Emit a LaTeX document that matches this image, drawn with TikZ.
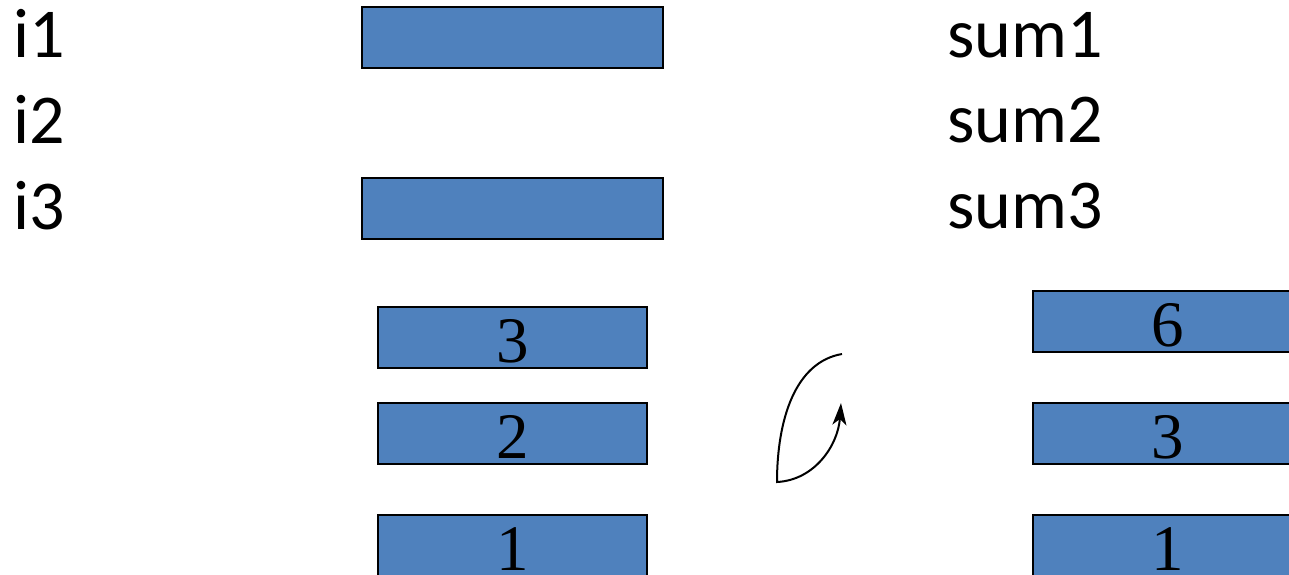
\documentclass[tikz,border=0pt]{standalone}
\usepackage{fontspec}
\setmainfont{Carlito}
\newfontfamily\numfont{Liberation Serif}
\usetikzlibrary{arrows.meta}
\definecolor{boxblue}{HTML}{4F81BD}
\tikzset{
  bar/.style={draw=black, line width=2pt, fill=boxblue},
  lbl/.style={anchor=base west, inner sep=0pt, font=\fontsize{70}{80}\selectfont},
  num/.style={anchor=base, inner sep=0pt, font=\numfont\fontsize{65}{75}\selectfont},
}
\begin{document}
\begin{tikzpicture}[x=1pt,y=-1pt]
\useasboundingbox (0,0) rectangle (1289,574);
\clip (0,0) rectangle (1289,574);
% labels
\node[lbl] (i1) at (13,57) {i1};
\node[lbl] (i2) at (13,143) {i2};
\node[lbl] (i3) at (13,229) {i3};
\node[lbl] (s1) at (947,57) {sum1};
\node[lbl] (s2) at (947,142) {sum2};
\node[lbl] (s3) at (947,228) {sum3};
% top bars
\draw[bar] (362,7) rectangle (663,68);
\draw[bar] (362,178) rectangle (663,239);
% left stack
\draw[bar] (378,307) rectangle (647,368);
\draw[bar] (378,403) rectangle (647,464);
\draw[bar] (378,515) rectangle (647,600);
\node[num] (l3) at (512.5,362) {3};
\node[num] (l2) at (512.5,458) {2};
\node[num] (l1) at (512.5,570) {1};
% right stack
\draw[bar] (1033,291) rectangle (1302,352);
\draw[bar] (1033,403) rectangle (1302,464);
\draw[bar] (1033,515) rectangle (1302,600);
\node[num] (r6) at (1167.5,346) {6};
\node[num] (r3) at (1167.5,458) {3};
\node[num] (r1) at (1167.5,570) {1};
% curved arrow
\coordinate (a0) at (842,354);
\coordinate (a1) at (777,482);
\coordinate (a2) at (841,403);
\draw[line width=2pt, -{Stealth[length=22pt,width=14pt,inset=6pt]}]
  (a0) .. controls (795,362) and (777,420) .. (a1)
       .. controls (815,480) and (838,445) .. (a2);
\end{tikzpicture}
\end{document}
